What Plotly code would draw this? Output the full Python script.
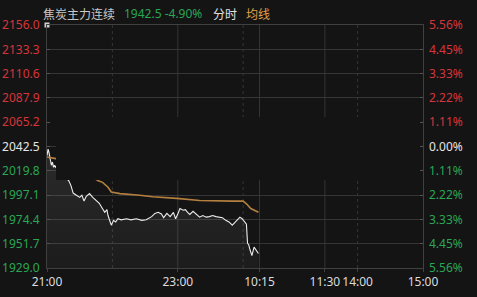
import plotly.graph_objects as go

# ---- data (minute index: 0 = 21:00, 120 = 23:00/09:00, 195 = 10:15, 255 = 11:30, 285 = 14:00, 345 = 15:00)
t_price = [0, 1, 2, 3, 4, 5, 6, 7, 8, 10, 12, 14, 16, 18, 20, 22, 24, 27, 30, 32, 34, 36, 39, 42, 45,
           48, 50, 53, 55, 56, 58, 59, 61, 63, 65, 68, 73, 77, 82, 87, 91, 96, 99, 102, 105, 107,
           110, 113, 116, 118, 120, 122, 125, 127, 129, 131, 134, 137, 140, 143, 146, 149, 152,
           155, 158, 161, 164, 167, 170, 174, 177, 179, 181, 183, 184, 185, 186, 188, 190, 192, 194]
price = [2034, 2040, 2036, 2031, 2025, 2028, 2023, 2025, 2023, 2025, 2021, 2018, 2015, 2013, 2010.5,
         2006, 1999, 1997, 1995, 1997, 1991.5, 1996, 1998.5, 1995, 1992,
         1989.5, 1986, 1981, 1983.5, 1978, 1972, 1969, 1973.5, 1972, 1975, 1974, 1975, 1974, 1975,
         1973.5, 1974, 1977, 1980, 1981, 1979.5, 1976,
         1980, 1977, 1981, 1975, 1979.5, 1984.5, 1983, 1983.5, 1981, 1979, 1982, 1979, 1976.5, 1978,
         1976.5, 1977, 1978, 1977, 1976.5, 1976, 1973.5, 1972, 1969, 1973, 1976.5, 1975, 1972,
         1970, 1952, 1951, 1947, 1940.5, 1948.5, 1945.5, 1942.5]

t_avg = [0, 8, 15, 25, 35, 42, 47, 51, 56, 59, 67, 85, 97, 119, 140, 170, 180, 183, 187, 194]
avg = [2032.7, 2031.2, 2029, 2024, 2018, 2014, 2010.4, 2009, 2004.5, 2000, 1998.5, 1997, 1995.5,
       1994, 1992, 1991.5, 1991.5, 1989, 1984.5, 1981]

y_ticks = [2156.0, 2133.3, 2110.6, 2087.9, 2065.2, 2042.5, 2019.8, 1997.1, 1974.4, 1951.7, 1929.0]
pct_labels = ["5.56%", "4.45%", "3.33%", "2.22%", "1.11%", "0.00%", "1.11%", "2.22%", "3.33%", "4.45%", "5.56%"]
prev_close = 2042.5

x_label_vals = [0, 120, 195, 255, 285, 345]
x_labels = ["21:00", "23:00", "10:15", "11:30", "14:00", "15:00"]
grid_solid = [120, 195, 255]
grid_dot = [60, 180, 285]

title_name = "焦炭主力连续"
title_value = "1942.5 -4.90%"

# ---- styles
BG = "#141414"
RED = "#d8343b"
GREEN = "#2aa655"
WHITE = "#e6e6e6"
GRID = "#353535"
AXIS = "#404040"
FONT_CJK = "Noto Sans CJK SC, sans-serif"
FONT_NUM = "Noto Sans, sans-serif"

W, H = 477, 297
ML, MR, MT, MB = 47, 54, 25, 29
PW, PH = W - ML - MR, H - MT - MB
XMAX = 345
YMIN, YMAX = 1929.0, 2156.0


def px2t(px):
    return (px - ML) / PW * XMAX


def py2p(py):
    return YMAX - (py - MT) / PH * (YMAX - YMIN)


def colored(v, txt):
    c = RED if v > prev_close + 0.01 else (GREEN if v < prev_close - 0.01 else WHITE)
    return f"<span style='color:{c}'>{txt}</span>"


left_text = [colored(v, f"{v:.1f}") for v in y_ticks]
right_text = [colored(v, s) for v, s in zip(y_ticks, pct_labels)]

fig = go.Figure()

fig.add_trace(go.Scatter(
    x=t_price, y=price, mode="lines",
    line=dict(color="#ececec", width=1.1),
    fill="tozeroy",
    fillgradient=dict(type="vertical", start=YMIN, stop=2045,
                      colorscale=[[0, "rgba(255,255,255,0.035)"], [1, "rgba(255,255,255,0.10)"]]),
    hoverinfo="skip", showlegend=False,
))
fig.add_trace(go.Scatter(
    x=t_avg, y=avg, mode="lines", yaxis="y2",
    line=dict(color="#b5803f", width=1.6),
    hoverinfo="skip", showlegend=False,
))
# corner marker
fig.add_trace(go.Scatter(
    x=[0], y=[YMAX], mode="markers", marker=dict(symbol="square", size=5, color="#d0d0d0"),
    cliponaxis=False, hoverinfo="skip", showlegend=False,
))

shapes = []
for v in grid_solid:
    shapes.append(dict(type="line", xref="x", yref="paper", x0=v, x1=v, y0=0, y1=1,
                       line=dict(color=GRID, width=1), layer="below"))
for v in grid_dot:
    shapes.append(dict(type="line", xref="x", yref="paper", x0=v, x1=v, y0=0, y1=1,
                       line=dict(color=GRID, width=1, dash="dot"), layer="below"))
# dark occluding band (as in the screenshot)
shapes.append(dict(type="rect", xref="x", yref="y", x0=px2t(50), x1=px2t(420),
                   y0=py2p(144), y1=py2p(117), fillcolor=BG, line=dict(width=0), layer="above"))
shapes.append(dict(type="rect", xref="x", yref="y", x0=px2t(56), x1=px2t(420),
                   y0=py2p(180), y1=py2p(144), fillcolor=BG, line=dict(width=0), layer="above"))

annotations = []
legend_items = [(41, title_name, "#c8c8c8", FONT_CJK), (122, title_value, GREEN, FONT_NUM),
                (211, "分时", "#e0e0e0", FONT_CJK), (244, "均线", "#e3a04a", FONT_CJK)]
for pxx, txt, col, fam in legend_items:
    annotations.append(dict(xref="paper", yref="paper", x=(pxx - ML) / PW, y=(H - MB - 13) / PH,
                            xanchor="left", yanchor="middle", text=txt, showarrow=False,
                            font=dict(family=fam, size=12, color=col)))

fig.update_layout(
    width=W, height=H,
    margin=dict(l=ML, r=MR, t=MT, b=MB, pad=0, autoexpand=False),
    paper_bgcolor=BG, plot_bgcolor=BG,
    shapes=shapes, annotations=annotations,
    font=dict(family=FONT_NUM, size=12),
    xaxis=dict(range=[0, XMAX], tickmode="array", tickvals=x_label_vals, ticktext=x_labels,
               tickangle=0, automargin=False,
               showgrid=False, zeroline=False, showline=True, linecolor=AXIS, mirror=True,
               ticks="outside", ticklen=3, tickcolor=AXIS, tickfont=dict(color="#dcdcdc", size=12),
               fixedrange=True),
    yaxis=dict(range=[YMIN, YMAX], tickmode="array", tickvals=y_ticks, ticktext=left_text,
               automargin=False,
               showgrid=True, gridcolor=GRID, gridwidth=1, zeroline=False,
               showline=True, linecolor=AXIS, mirror=True,
               ticks="inside", ticklen=3, tickcolor="#555555", ticklabelstandoff=4,
               tickfont=dict(size=12), fixedrange=True),
    yaxis2=dict(range=[YMIN, YMAX], overlaying="y", side="right", anchor="x",
                tickmode="array", tickvals=y_ticks, ticktext=right_text, automargin=False,
                showgrid=False, zeroline=False, showline=False,
                ticks="inside", ticklen=3, tickcolor="#555555", ticklabelstandoff=5,
                tickfont=dict(size=12), fixedrange=True),
)

fig.write_html("out.html")
